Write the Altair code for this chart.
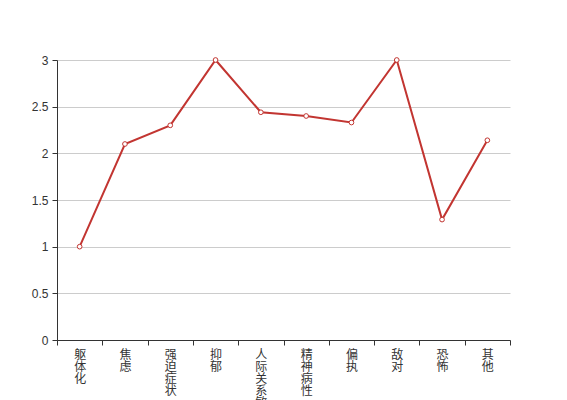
import altair as alt
import pandas as pd

categories = ["躯体化", "焦虑", "强迫症状", "抑郁", "人际关系敏感", "精神病性", "偏执", "敌对", "恐怖", "其他"]
values = [1.0, 2.1, 2.3, 3.0, 2.44, 2.4, 2.33, 3.0, 1.29, 2.14]
y_ticks = [0, 0.5, 1, 1.5, 2, 2.5, 3]

df = pd.DataFrame({"cat": categories, "val": values})
color = "#c23531"

x = alt.X("cat:N", sort=categories, title=None,
          scale=alt.Scale(type="band", paddingInner=0, paddingOuter=0),
          axis=alt.Axis(labelAngle=0, tickBand="extent", labelExpr="split(datum.label, '')",
                        labelLineHeight=12, labelFontSize=12, labelColor="#333",
                        labelFont="Noto Sans CJK SC", labelPadding=4,
                        domainColor="#333", tickColor="#333", tickSize=5, grid=False,
                        labelBaseline="top", labelOverlap=False, labelBound=False))
y = alt.Y("val:Q", title=None,
          scale=alt.Scale(domain=[0, 3], nice=False),
          axis=alt.Axis(values=y_ticks, format="~g", labelFontSize=12, labelColor="#333",
                        labelFont="sans-serif", domainColor="#333", tickColor="#333",
                        tickSize=5, gridColor="#ccc", labelPadding=4))

line = alt.Chart(df).mark_line(color=color, strokeWidth=2).encode(x=x, y=y)
pts = alt.Chart(df).mark_point(color=color, fill="white", filled=False, opacity=1,
                               strokeWidth=1, size=22, shape="circle").encode(x=x, y=y)

chart = (line + pts).properties(
    width=453, height=280,
    autosize=alt.AutoSizeParams(type="none"),
    padding={"left": 49, "top": 52, "right": 10, "bottom": 60},
).configure_view(stroke=None)

chart.save("out.html", embed_options={"renderer": "svg", "actions": False})
